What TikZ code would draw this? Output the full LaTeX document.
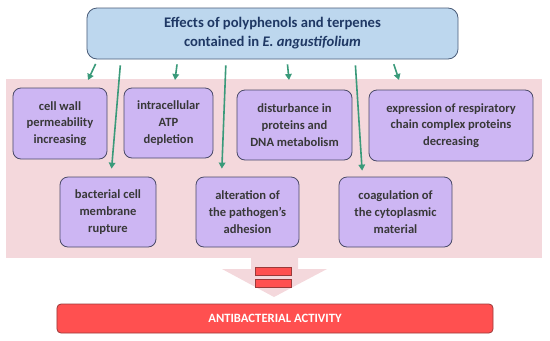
\documentclass[tikz,border=0pt]{standalone}
\usepackage{fontspec}
\setmainfont{Carlito}
\usetikzlibrary{arrows.meta, calc}

\definecolor{topblue}{HTML}{BDD7EE}
\definecolor{topline}{HTML}{4A5C78}
\definecolor{titleblue}{HTML}{1F3864}
\definecolor{bgpink}{HTML}{F4D8DC}
\definecolor{boxviolet}{HTML}{CDB6F3}
\definecolor{boxline}{HTML}{4A4A68}
\definecolor{boxtext}{HTML}{383838}
\definecolor{arrowgreen}{HTML}{3A9A7A}
\definecolor{actred}{HTML}{FF5050}
\definecolor{actline}{HTML}{9A3A3A}

\begin{document}
\begin{tikzpicture}[x=1bp, y=-1bp, >={Triangle[length=6bp, width=6.5bp]},
    effect/.style={draw=boxline, fill=boxviolet, line width=0.8bp, rounded corners=8bp,
        align=center, inner sep=0pt, text=boxtext,
        font=\bfseries\fontsize{12.6}{16.8}\selectfont},
    link/.style={->, arrowgreen, line width=1.6bp}]
    \useasboundingbox (0,0) rectangle (550,340);

    % pink band behind the effects and the big arrow below it
    \fill[bgpink] (6,79) rectangle (542,258);
    \fill[bgpink] (251,258) -- (298,258) -- (298,269) -- (327,269)
        -- (274,297) -- (222,269) -- (251,269) -- cycle;
    \filldraw[fill=actred, draw=actline, line width=0.6bp] (255,267) rectangle (291,275);
    \filldraw[fill=actred, draw=actline, line width=0.6bp] (255,279) rectangle (291,287);

    \node[draw=topline, fill=topblue, line width=0.8bp, rounded corners=10bp,
        minimum width=371bp, minimum height=51bp, align=center, text=titleblue,
        font=\bfseries\fontsize{14.7}{19}\selectfont] (effects) at (272.5,33.5)
        {Effects of polyphenols and terpenes\\contained in \textit{E. angustifolium}};

    \node[effect, minimum width=94bp, minimum height=71bp] (wall) at (60,123.5)
        {cell wall\\permeability\\increasing};
    \node[effect, minimum width=89bp, minimum height=70bp] (atp) at (168.5,123)
        {intracellular\\ATP\\depletion};
    \node[effect, minimum width=115bp, minimum height=70bp] (dna) at (294.5,125)
        {disturbance in\\proteins and\\DNA metabolism};
    \node[effect, minimum width=164bp, minimum height=71bp] (chain) at (451,125.5)
        {expression of respiratory\\chain complex proteins\\decreasing};
    \node[effect, minimum width=96bp, minimum height=70bp] (membrane) at (108,212)
        {bacterial cell\\membrane\\rupture};
    \node[effect, minimum width=103bp, minimum height=70bp] (adhesion) at (247.5,212)
        {alteration of\\the pathogen's\\adhesion};
    \node[effect, minimum width=113bp, minimum height=70bp] (coag) at (395.5,212)
        {coagulation of\\the cytoplasmic\\material};

    \node[draw=actline, fill=actred, line width=0.8bp, rounded corners=4bp,
        minimum width=436bp, minimum height=29bp, text=white,
        font=\bfseries\fontsize{12.7}{14}\selectfont] (activity) at (275,318.5)
        {ANTIBACTERIAL ACTIVITY};

    % short arrows towards the upper row
    \foreach \n/\p/\ex in {1/0.030/88, 2/0.245/175, 3/0.539/289, 4/0.822/399}
        \draw[link, shorten <=5bp] ($(effects.south west)!\p!(effects.south east)$)
            -- (\ex,80) coordinate (hit\n);

    % long arrows down to the lower row
    \draw[link, shorten <=6bp, shorten >=8bp]
        ($(effects.south west)!0.092!(effects.south east)$)
        -- ($(membrane.north west)!0.53!(membrane.north east)$);
    \draw[link, shorten <=6bp, shorten >=8bp]
        ($(effects.south west)!0.375!(effects.south east)$)
        -- ($(adhesion.north west)!0.25!(adhesion.north east)$);
    \draw[link, shorten <=6bp, shorten >=6bp]
        ($(effects.south west)!0.722!(effects.south east)$)
        -- ($(coag.north west)!0.21!(coag.north east)$);
\end{tikzpicture}
\end{document}
